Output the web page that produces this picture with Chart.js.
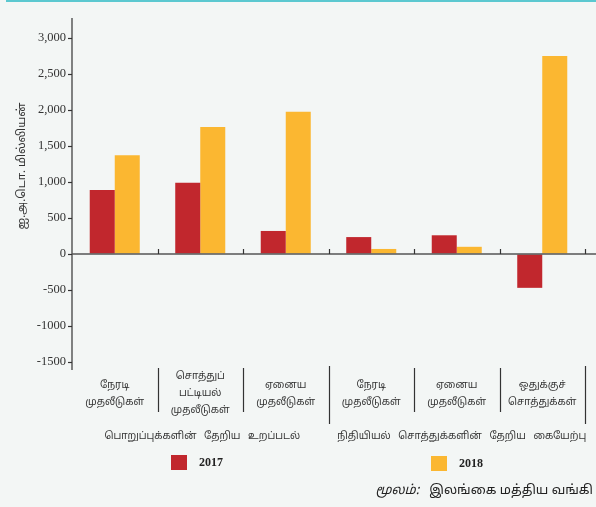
<!DOCTYPE html>
<html lang="ta">
<head>
    <meta charset="UTF-8">
    <title>தேறிய உறப்படல் / கையேற்பு</title>
    <script src="https://cdn.jsdelivr.net/npm/chart.js"></script>
    <style>
        html, body { margin: 0; padding: 0; background: #f3f6f5; }
        #wrap { position: relative; width: 596px; height: 507px; }
    </style>
</head>
<body>
    <div id="wrap"><canvas id="chart" width="596" height="507"></canvas></div>

    <script>
        // Data
        const categories = [
            ['நேரடி', 'முதலீடுகள்'],
            ['சொத்துப்', 'பட்டியல்', 'முதலீடுகள்'],
            ['ஏனைய', 'முதலீடுகள்'],
            ['நேரடி', 'முதலீடுகள்'],
            ['ஏனைய', 'முதலீடுகள்'],
            ['ஒதுக்குச்', 'சொத்துக்கள்']
        ];
        const groups = ['பொறுப்புக்களின் தேறிய உறப்படல்', 'நிதியியல் சொத்துக்களின் தேறிய கையேற்பு'];
        const seriesNames = ['2017', '2018'];
        const values2017 = [890, 990, 320, 235, 260, -470];
        const values2018 = [1370, 1765, 1975, 70, 100, 2750];
        const yTicks = [-1500, -1000, -500, 0, 500, 1000, 1500, 2000, 2500, 3000];
        const yTickLabels = ['-1500', '-1000', '-500', '0', '500', '1,000', '1,500', '2,000', '2,500', '3,000'];
        const yTitle = 'ஐ.அ.டொ. மில்லியன்';
        const source = 'இலங்கை மத்திய வங்கி';

        const RED = '#c1272d';
        const YELLOW = '#fbb731';
        const TAMIL = '"Noto Sans Tamil", "Latha", "Noto Sans", sans-serif';

        // extra drawing: axes lines, separators, labels, legend, source
        const decor = {
            id: 'decor',
            beforeDraw(chart) {
                const c = chart.ctx;
                c.save();
                c.fillStyle = '#f3f6f5';
                c.fillRect(0, 0, chart.width, chart.height);
                c.fillStyle = '#5bc8d0';
                c.fillRect(6, 0, chart.width - 6, 2);
                c.restore();
            },
            afterDraw(chart) {
                const c = chart.ctx;
                const x = chart.scales.x, y = chart.scales.y;
                const area = chart.chartArea;
                const step = x.getPixelForValue(1) - x.getPixelForValue(0);
                const zero = y.getPixelForValue(0);
                c.save();

                // y axis line
                c.strokeStyle = '#333';
                c.lineWidth = 1.2;
                c.beginPath();
                c.moveTo(area.left, 18);
                c.lineTo(area.left, 370);
                c.stroke();

                // zero line
                c.strokeStyle = '#555';
                c.lineWidth = 1.5;
                c.beginPath();
                c.moveTo(area.left, zero);
                c.lineTo(chart.width, zero);
                c.stroke();

                // small ticks on zero line + separators below
                c.lineWidth = 1.2;
                c.strokeStyle = '#333';
                for (let i = 0; i < categories.length; i++) {
                    const bx = Math.round(x.getPixelForValue(i) + step / 2) + 0.5;
                    c.beginPath();
                    c.moveTo(bx, zero - 5);
                    c.lineTo(bx, zero);
                    c.stroke();
                    const long = (i === 2 || i === 5);
                    c.beginPath();
                    c.moveTo(bx, long ? 366 : 368);
                    c.lineTo(bx, long ? 424 : 412);
                    c.stroke();
                }

                // category labels
                c.fillStyle = '#333';
                c.textAlign = 'center';
                c.textBaseline = 'middle';
                c.font = '10px ' + TAMIL;
                categories.forEach((lines, i) => {
                    const cx = x.getPixelForValue(i);
                    const lh = 17;
                    const startY = 394 - (lines.length - 1) * lh / 2;
                    lines.forEach((t, j) => c.fillText(t, cx, startY + j * lh));
                });

                // group labels
                const g1 = (x.getPixelForValue(0) + x.getPixelForValue(2)) / 2;
                const g2 = (x.getPixelForValue(3) + x.getPixelForValue(5)) / 2;
                c.font = '10px ' + TAMIL;
                c.wordSpacing = '5px';
                c.fillText(groups[0], g1 + 2, 437);
                c.fillText(groups[1], g2 + 5, 437);
                c.wordSpacing = '0px';

                // legend
                c.fillStyle = RED;
                c.fillRect(171, 455, 16, 15);
                c.fillStyle = YELLOW;
                c.fillRect(431, 456, 16, 15);
                c.fillStyle = '#222';
                c.textAlign = 'left';
                c.font = 'bold 12px "Liberation Serif", serif';
                c.fillText(seriesNames[0], 199, 463);
                c.fillText(seriesNames[1], 459, 464);

                // y title
                c.save();
                c.translate(23, 166);
                c.rotate(-Math.PI / 2);
                c.textAlign = 'center';
                c.font = '11.5px ' + TAMIL;
                c.fillStyle = '#333';
                c.fillText(yTitle, 0, 0);
                c.restore();

                // source
                c.textAlign = 'right';
                c.fillStyle = '#222';
                c.font = '13px ' + TAMIL;
                const sw = c.measureText(source).width;
                c.fillText(source, 593, 491);
                c.font = 'italic 13px ' + TAMIL;
                c.fillText('மூலம்:', 593 - sw - 10, 491);

                c.restore();
            }
        };

        new Chart(document.getElementById('chart'), {
            type: 'bar',
            data: {
                labels: categories.map(l => l.join(' ')),
                datasets: [
                    { label: seriesNames[0], data: values2017, backgroundColor: RED },
                    { label: seriesNames[1], data: values2018, backgroundColor: YELLOW }
                ]
            },
            options: {
                responsive: false,
                animation: false,
                categoryPercentage: 0.585,
                barPercentage: 1,
                layout: { padding: { left: 0, top: 38, right: 11, bottom: 145 } },
                plugins: { legend: { display: false }, tooltip: { enabled: false } },
                scales: {
                    x: { display: false },
                    y: {
                        min: -1500,
                        max: 3000,
                        afterFit(scale) { scale.width = 72; },
                        afterBuildTicks(scale) { scale.ticks = yTicks.map(v => ({ value: v })); },
                        border: { display: false },
                        grid: { drawOnChartArea: false, drawTicks: true, tickLength: 4, color: '#333', tickWidth: 1.2 },
                        ticks: {
                            padding: 2,
                            color: '#333',
                            font: { family: '"Liberation Serif", "Times New Roman", serif', size: 12.5 },
                            callback: (v) => yTickLabels[yTicks.indexOf(v)]
                        }
                    }
                }
            },
            plugins: [decor]
        });
    </script>
</body>
</html>
